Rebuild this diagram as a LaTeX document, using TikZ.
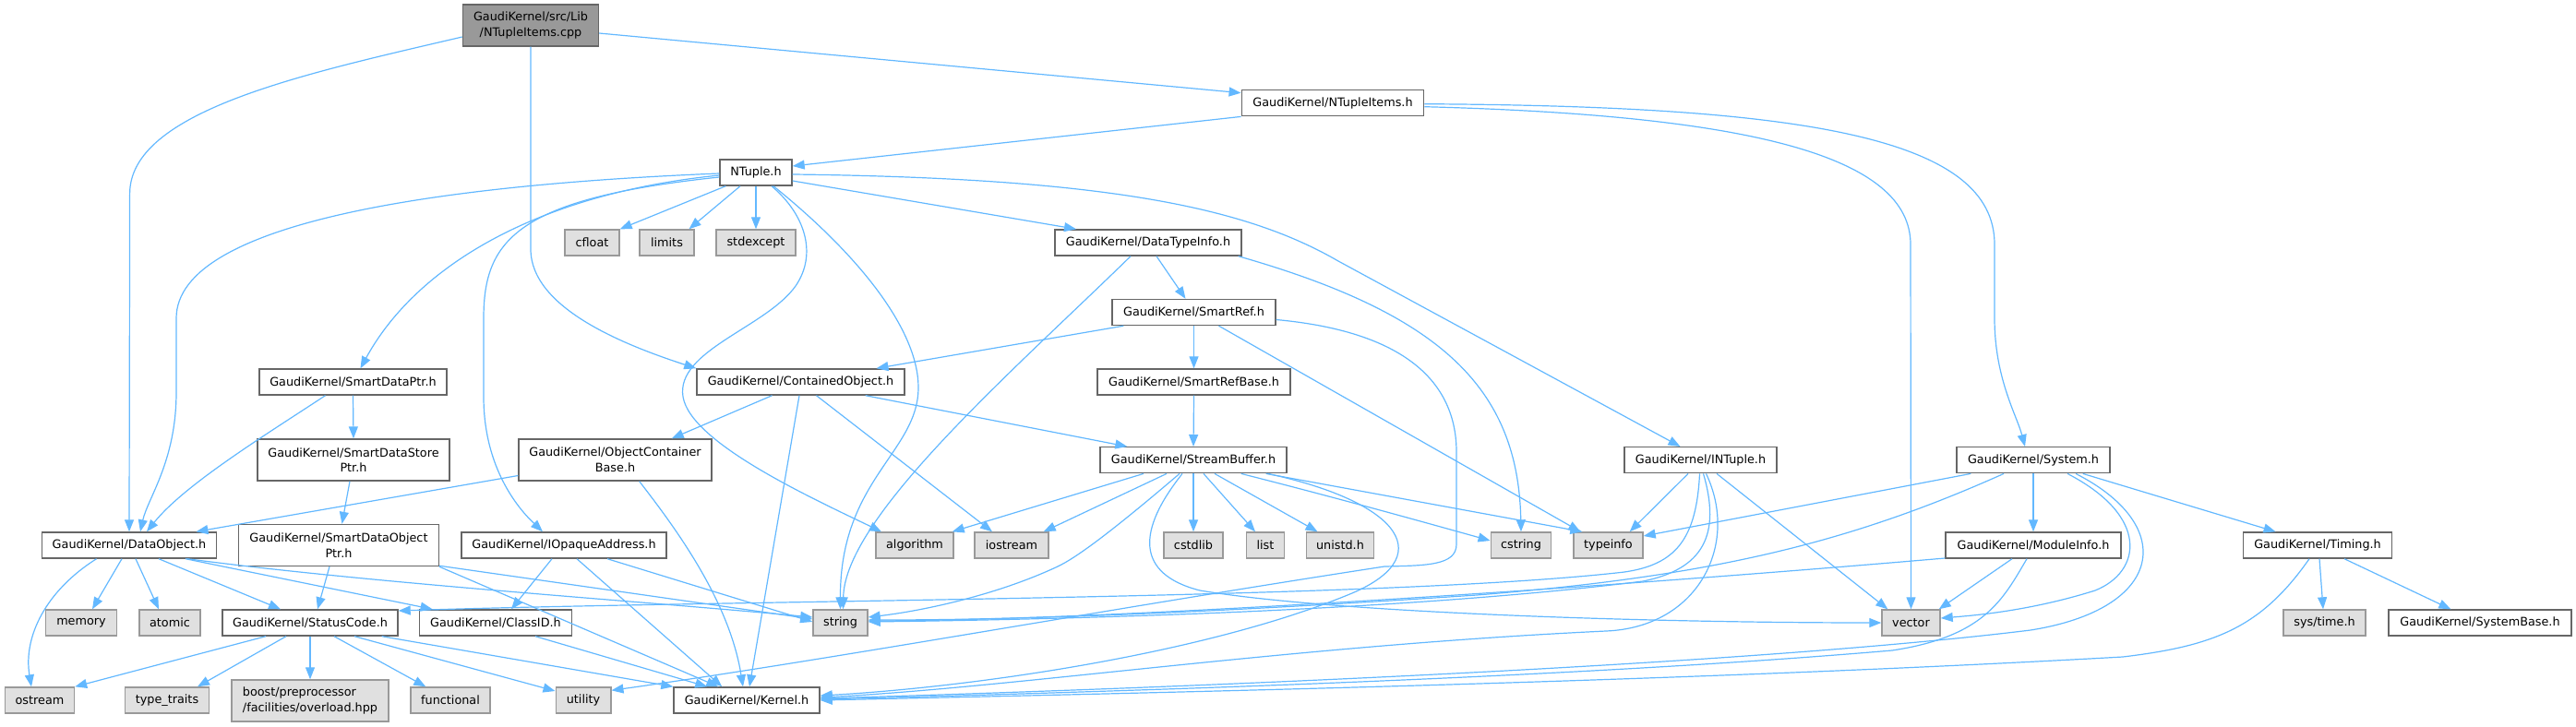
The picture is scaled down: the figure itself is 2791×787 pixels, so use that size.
\documentclass[tikz,border=0pt]{standalone}
\usepackage{fontspec}
\setmainfont{DejaVu Sans}
\usetikzlibrary{arrows.meta,calc}
\definecolor{cA}{HTML}{666666}
\definecolor{cB}{HTML}{999999}
\definecolor{cC}{HTML}{E0E0E0}
\definecolor{edgec}{HTML}{63B8FF}
\newcommand\dfont{\fontsize{12.8}{16.7}\selectfont}
\tikzset{
 nd/.style={draw=cA, fill=white, line width=1.4pt, minimum height=28pt, inner sep=0pt, font=\dfont, align=center},
 nd2/.style={nd, minimum height=45pt},
 ext/.style={nd, draw=cB, fill=cC},
 rootn/.style={nd2, fill=cB, draw=cA},
 e/.style={draw=edgec, line width=1.2pt, -{Triangle[length=13pt,width=10pt]}},
}
\begin{document}
\begin{tikzpicture}[x=1pt,y=-1pt]
\useasboundingbox (0,0) rectangle (2791,787);
% nodes
\node[rootn, minimum width=147pt] (root) at (575,27.5) {GaudiKernel/src/Lib\\/NTupleItems.cpp};
\node[nd, minimum width=197.5pt] (ntitems) at (1444,111.7) {GaudiKernel/NTupleItems.h};
\node[nd, minimum width=78pt] (ntuple) at (819,187) {NTuple.h};
\node[ext, minimum width=59pt] (cfloat) at (641.5,263) {cfloat};
\node[ext, minimum width=59pt] (limits) at (722.5,263) {limits};
\node[ext, minimum width=86pt] (stdexcept) at (819,263) {stdexcept};
\node[nd, minimum width=202pt] (dti) at (1244,263) {GaudiKernel/DataTypeInfo.h};
\node[nd, minimum width=177pt] (smartref) at (1293.5,338.5) {GaudiKernel/SmartRef.h};
\node[nd, minimum width=203pt] (sdp) at (382.5,414) {GaudiKernel/SmartDataPtr.h};
\node[nd, minimum width=225pt] (cobj) at (867.5,414) {GaudiKernel/ContainedObject.h};
\node[nd, minimum width=209pt] (srb) at (1293.5,414) {GaudiKernel/SmartRefBase.h};
\node[nd2, minimum width=208pt] (sdsp) at (383,498.5) {GaudiKernel/SmartDataStore\\Ptr.h};
\node[nd2, minimum width=209pt] (ocb) at (666.5,498.5) {GaudiKernel/ObjectContainer\\Base.h};
\node[nd, minimum width=202pt] (sbuf) at (1293,498.7) {GaudiKernel/StreamBuffer.h};
\node[nd, minimum width=165pt] (intuple) at (1842.5,498.7) {GaudiKernel/INTuple.h};
\node[nd, minimum width=166pt] (system) at (2203,498.7) {GaudiKernel/System.h};
\node[nd, minimum width=189.5pt] (dobj) at (140,591) {GaudiKernel/DataObject.h};
\node[nd2, minimum width=216.5pt] (sdop) at (367,591) {GaudiKernel/SmartDataObject\\Ptr.h};
\node[nd, minimum width=222pt] (ioa) at (611,591) {GaudiKernel/IOpaqueAddress.h};
\node[ext, minimum width=84pt] (algorithm) at (991,591) {algorithm};
\node[ext, minimum width=80pt] (iostream) at (1096,591) {iostream};
\node[ext, minimum width=64pt] (cstdlib) at (1293,591) {cstdlib};
\node[ext, minimum width=41.5pt] (list) at (1371,591) {list};
\node[ext, minimum width=73.5pt] (unistd) at (1452,591) {unistd.h};
\node[ext, minimum width=65.5pt] (cstring) at (1648,591) {cstring};
\node[ext, minimum width=75pt] (typeinfo) at (1742.5,591) {typeinfo};
\node[nd, minimum width=190pt] (modinfo) at (2203,591) {GaudiKernel/ModuleInfo.h};
\node[nd, minimum width=161.5pt] (timing) at (2511,591) {GaudiKernel/Timing.h};
\node[ext, minimum width=76.5pt] (memory) at (88,675) {memory};
\node[ext, minimum width=66pt] (atomic) at (184,675) {atomic};
\node[nd, minimum width=190pt] (statuscode) at (336,675) {GaudiKernel/StatusCode.h};
\node[nd, minimum width=165.5pt] (classid) at (537,675) {GaudiKernel/ClassID.h};
\node[ext, minimum width=59pt] (string) at (910.5,675) {string};
\node[ext, minimum width=63pt] (vector) at (2070.5,675) {vector};
\node[ext, minimum width=89pt] (systime) at (2518.5,675) {sys/time.h};
\node[nd, minimum width=198pt] (sysbase) at (2687,675) {GaudiKernel/SystemBase.h};
\node[ext, minimum width=75pt] (ostream) at (43,759) {ostream};
\node[ext, minimum width=91.5pt] (typetraits) at (181,759) {type\_traits};
\node[ext, minimum height=45pt, minimum width=170pt, align=left] (boost) at (336,759.5) {boost/preprocessor\\/facilities/overload.hpp};
\node[ext, minimum width=86pt] (functional) at (488,759) {functional};
\node[ext, minimum width=59.6pt] (utility) at (632,759) {utility};
\node[nd, minimum width=158pt] (kernel) at (809,759) {GaudiKernel/Kernel.h};
% edges
% root
\draw[e] ($(root.east)+(0,8.5)$) -- ($(ntitems.west)+(0,-11)$);
\draw[e] ($(root.west)+(0,12.5)$) .. controls (330,80) and (140.6,120) .. (140.6,210) -- (dobj.north);
\draw[e] (root.south) -- (575,270) .. controls (575,335) and (680,375) .. (cobj.north west);
% ntitems
\draw[e] (ntitems.south west) -- ($(ntuple.east)+(0,-7)$);
\draw[e] ($(ntitems.east)+(0,4)$) .. controls (1900,125) and (2070,170) .. (2070,265) -- (vector.north);
\draw[e] ($(ntitems.east)+(0,1)$) .. controls (1960,115) and (2161,150) .. (2161,265) -- (2161,345) .. controls (2161,410) and (2185,450) .. ($(system.north)+(-9,0)$);
% ntuple
\draw[e] ($(ntuple.west)+(0,1)$) .. controls (480,200) and (191,240) .. (191,345) -- (191,425) .. controls (191,500) and (160,540) .. ($(dobj.north)+(12,0)$);
\draw[e] ($(ntuple.west)+(0,3)$) .. controls (580,210) and (450,290) .. ($(sdp.north)+(8,0)$);
\draw[e] ($(ntuple.west)+(0,5)$) .. controls (560,215) and (524,260) .. (524,345) -- (524,430) .. controls (524,500) and (555,545) .. ($(ioa.north)+(-23,0)$);
\draw[e] ($(ntuple.south west)+(7,0)$) -- (cfloat.north east);
\draw[e] ($(ntuple.south)+(-17,0)$) -- ($(limits.north)+(24,0)$);
\draw[e] (ntuple.south) -- (stdexcept.north);
\draw[e] ($(ntuple.south)+(17,0)$) .. controls (872,232) and (886,275) .. (862,310) .. controls (830,355) and (732,380) .. (740,430) .. controls (748,480) and (880,540) .. ($(algorithm.north)+(-36,0)$);
\draw[e] ($(ntuple.south)+(19,0)$) .. controls (935,280) and (995,360) .. (995,420) .. controls (995,490) and (910,520) .. (string.north);
\draw[e] ($(ntuple.east)+(0,9)$) -- ($(dti.north)+(-78,0)$);
\draw[e] ($(ntuple.east)+(0,2)$) .. controls (1200,193) and (1350,225) .. (1450,283) -- ($(intuple.north)+(-22,0)$);
% dti
\draw[e] ($(dti.south)+(9,0)$) -- ($(smartref.north)+(-9,0)$);
\draw[e] ($(dti.south)+(-19,0)$) .. controls (1100,400) and (915,560) .. ($(string.north)+(3,0)$);
\draw[e] ($(dti.south east)+(-4,0)$) .. controls (1560,340) and (1645,420) .. (cstring.north);
% smartref
\draw[e] ($(smartref.south west)+(13,0)$) -- ($(cobj.north)+(82,0)$);
\draw[e] (smartref.south) -- (srb.north);
\draw[e] ($(smartref.south)+(27,0)$) -- ($(typeinfo.north west)+(8,0)$);
\draw[e] ($(smartref.east)+(0,8)$) .. controls (1530,360) and (1578,420) .. (1578,490) -- (1578,590) .. controls (1578,613) and (1545,613) .. (1500,614) .. controls (1200,660) and (900,715) .. ($(utility.north east)+(0,4)$);
% srb
\draw[e] (srb.south) -- (sbuf.north);
% cobj
\draw[e] ($(cobj.south)+(-31,0)$) -- ($(ocb.north east)+(-44,0)$);
\draw[e] ($(cobj.south)+(-1.5,0)$) -- ($(kernel.north)+(3,0)$);
\draw[e] ($(cobj.south)+(17,0)$) -- ($(iostream.north)+(-21,0)$);
\draw[e] ($(cobj.south east)+(-43,0)$) -- ($(sbuf.north west)+(30,0)$);
% ocb
\draw[e] ($(ocb.west)+(0,17)$) -- ($(dobj.north east)+(-23,0)$);
\draw[e] ($(ocb.south east)+(-79,0)$) .. controls (730,570) and (790,650) .. ($(kernel.north)+(-4,0)$);
% sdp
\draw[e] ($(sdp.south)+(-30,0)$) .. controls (290,470) and (200,525) .. ($(dobj.north)+(19,0)$);
\draw[e] (sdp.south) -- (sdsp.north);
% sdsp
\draw[e] ($(sdsp.south)+(-4,0)$) -- ($(sdop.north)+(3.5,0)$);
% sdop
\draw[e] ($(sdop.south)+(-10,0)$) -- ($(statuscode.north)+(8,0)$);
\draw[e] ($(sdop.south east)+(0,-1)$) -- ($(string.west)+(0,-4)$);
\draw[e] (sdop.south east) -- ($(kernel.north west)+(49,0)$);
% ioa
\draw[e] ($(ioa.south)+(-13,0)$) -- ($(classid.north)+(17,0)$);
\draw[e] ($(ioa.south)+(14,0)$) -- ($(kernel.north west)+(53,0)$);
\draw[e] ($(ioa.south)+(47,0)$) -- ($(string.west)+(0,-1)$);
% dobj
\draw[e] ($(dobj.south west)+(60,0)$) .. controls (50,640) and (25,690) .. ($(ostream.north)+(-9,0)$);
\draw[e] ($(dobj.south)+(-8,0)$) -- ($(memory.north)+(12,0)$);
\draw[e] ($(dobj.south)+(7,0)$) -- ($(atomic.north)+(-12,0)$);
\draw[e] ($(dobj.south)+(32,0)$) -- ($(statuscode.north)+(-32,0)$);
\draw[e] ($(dobj.south)+(61,0)$) -- ($(classid.north west)+(15,0)$);
\draw[e] ($(dobj.south)+(63,0)$) .. controls (400,632) and (700,652) .. ($(string.west)+(0,-6)$);
% statuscode
\draw[e] ($(statuscode.south)+(-48,0)$) -- (ostream.north east);
\draw[e] ($(statuscode.south)+(-26,0)$) -- ($(typetraits.north)+(33,0)$);
\draw[e] (statuscode.south) -- (boost.north);
\draw[e] ($(statuscode.south)+(26,0)$) -- ($(functional.north west)+(17,0)$);
\draw[e] ($(statuscode.south)+(48,0)$) -- ($(utility.west)+(0,-10)$);
\draw[e] ($(statuscode.south east)+(-18,0)$) -- (kernel.north west);
% classid
\draw[e] ($(classid.south)+(43,0)$) -- ($(kernel.north west)+(37,0)$);
% sbuf
\draw[e] ($(sbuf.south)+(-54,0)$) -- ($(algorithm.north east)+(-2,0)$);
\draw[e] ($(sbuf.south)+(-29,0)$) -- ($(iostream.north east)+(-6,0)$);
\draw[e] ($(sbuf.south)+(-15,0)$) .. controls (1200,580) and (1165,605) .. (1146,614) .. controls (1080,645) and (1000,662) .. ($(string.east)+(0,-6)$);
\draw[e] ($(sbuf.south)+(-12,0)$) .. controls (1232,575) and (1230,622) .. (1300,640) .. controls (1450,665) and (1800,675) .. (vector.west);
\draw[e] (sbuf.south) -- (cstdlib.north);
\draw[e] ($(sbuf.south)+(11,0)$) -- ($(list.north)+(-11,0)$);
\draw[e] ($(sbuf.south)+(23,0)$) -- ($(unistd.north west)+(13,0)$);
\draw[e] ($(sbuf.south east)+(-50,0)$) .. controls (1450,540) and (1550,568) .. ($(cstring.west)+(0,-5)$);
\draw[e] ($(sbuf.south east)+(-23,0)$) -- ($(typeinfo.north west)+(10,0)$);
\draw[e] ($(sbuf.south east)+(-21,0)$) .. controls (1520,545) and (1560,605) .. (1460,645) .. controls (1300,710) and (1050,745) .. ($(kernel.east)+(0,-5)$);
% intuple
\draw[e] ($(intuple.south)+(-13.5,0)$) -- ($(typeinfo.north east)+(-15,0)$);
\draw[e] ($(intuple.south)+(17.5,0)$) -- ($(vector.north west)+(7,0)$);
\draw[e] ($(intuple.south)+(-1,0)$) .. controls (1838,585) and (1815,612) .. (1760,620) .. controls (1500,650) and (800,650) .. ($(statuscode.east)+(0,-13)$);
\draw[e] ($(intuple.south)+(3,0)$) .. controls (1865,580) and (1845,617) .. (1780,630) .. controls (1500,665) and (1100,672) .. ($(string.east)+(0,-1)$);
\draw[e] ($(intuple.south)+(6,0)$) .. controls (1885,590) and (1840,680) .. (1740,684) .. controls (1400,700) and (1100,745) .. ($(kernel.east)+(0,-3)$);
% system
\draw[e] ($(system.south west)+(16,0)$) -- ($(typeinfo.east)+(0,-10)$);
\draw[e] ($(system.south)+(-32,0)$) .. controls (2000,590) and (1850,625) .. (1600,645) .. controls (1300,665) and (1100,672) .. ($(string.east)+(0,-3)$);
\draw[e] (system.south) -- (modinfo.north);
\draw[e] ($(system.south)+(37,0)$) .. controls (2330,560) and (2320,620) .. (2270,640) .. controls (2200,662) and (2140,667) .. ($(vector.east)+(0,-5)$);
\draw[e] ($(system.south)+(46,0)$) .. controls (2360,570) and (2345,660) .. (2200,683) .. controls (1900,720) and (1300,745) .. ($(kernel.east)+(0,-2)$);
\draw[e] ($(system.south east)+(-30,0)$) -- ($(timing.north west)+(36,0)$);
% modinfo
\draw[e] ($(modinfo.west)+(0,14)$) .. controls (1700,640) and (1200,672) .. ($(string.east)+(0,-2)$);
\draw[e] ($(modinfo.south)+(-23,0)$) -- ($(vector.north east)+(-2,0)$);
\draw[e] ($(modinfo.south)+(-7,0)$) .. controls (2170,650) and (2150,690) .. (2050,705) .. controls (1700,735) and (1200,750) .. ($(kernel.east)+(0,-1)$);
% timing
\draw[e] ($(timing.south)+(-9,0)$) .. controls (2450,680) and (2400,700) .. (2300,712) .. controls (1800,740) and (1200,752) .. (kernel.east);
\draw[e] ($(timing.south)+(2,0)$) -- ($(systime.north)+(-1.5,0)$);
\draw[e] ($(timing.south)+(29,0)$) -- ($(sysbase.north west)+(68,0)$);
\end{tikzpicture}
\end{document}
